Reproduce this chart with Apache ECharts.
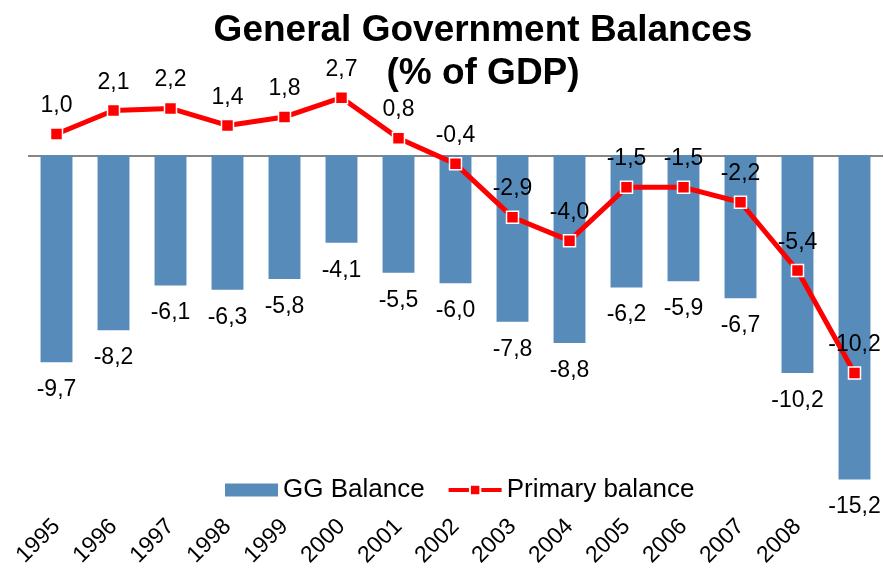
<!DOCTYPE html>
<html>
<head>
<meta charset="utf-8">
<script src="https://cdn.jsdelivr.net/npm/echarts@6/dist/echarts.min.js"></script>
<style>
  html, body { margin: 0; padding: 0; background: #fff; }
  #chart { width: 884px; height: 571px; }
</style>
</head>
<body>
<div id="chart"></div>
<script>
// Years on the category axis
const years = ['1995', '1996', '1997', '1998', '1999', '2000', '2001', '2002',
               '2003', '2004', '2005', '2006', '2007', '2008', '2009'];
// Tick labels printed under the axis (the last year is left unlabelled)
const tickLabels = ['1995', '1996', '1997', '1998', '1999', '2000', '2001', '2002',
                    '2003', '2004', '2005', '2006', '2007', '2008', ''];
// General government balance, % of GDP
const ggBalance = [-9.7, -8.2, -6.1, -6.3, -5.8, -4.1, -5.5, -6.0,
                   -7.8, -8.8, -6.2, -5.9, -6.7, -10.2, -15.2];
// Primary balance, % of GDP
const primaryBalance = [1.0, 2.1, 2.2, 1.4, 1.8, 2.7, 0.8, -0.4,
                        -2.9, -4.0, -1.5, -1.5, -2.2, -5.4, -10.2];

const FONT = "'Liberation Sans', Arial, sans-serif";
const fmt = v => Number(v).toFixed(1).replace('.', ',');

const chart = echarts.init(document.getElementById('chart'), null, { renderer: 'canvas' });

chart.setOption({
  animation: false,
  backgroundColor: '#ffffff',
  textStyle: { fontFamily: FONT },
  title: {
    text: 'General Government Balances\n(% of GDP)',
    left: 478,
    top: 4,
    textAlign: 'center',
    textStyle: {
      fontFamily: FONT,
      fontSize: 37,
      fontWeight: 'bold',
      color: '#000',
      lineHeight: 43
    }
  },
  legend: {
    left: 220,
    top: 472,
    itemWidth: 53,
    itemHeight: 13,
    itemGap: 22,
    textStyle: { fontFamily: FONT, fontSize: 26, color: '#000' },
    data: [
      { name: 'GG Balance', icon: 'rect' },
      { name: 'Primary balance', lineStyle: { width: 4 } }
    ]
  },
  grid: {
    left: 28,
    width: 855,
    top: 70,
    height: 448,
    containLabel: false,
    outerBoundsMode: 'none'
  },
  xAxis: {
    type: 'category',
    data: years,
    position: 'bottom',
    axisLine: { show: false, onZero: false },
    axisTick: { show: false },
    axisLabel: {
      interval: 0,
      rotate: 45,
      margin: 5,
      fontFamily: FONT,
      fontSize: 23,
      color: '#000',
      formatter: (v, i) => tickLabels[i]
    },
    splitLine: { show: false }
  },
  yAxis: {
    type: 'value',
    min: -17,
    max: 4,
    show: false,
    splitLine: { show: false }
  },
  series: [
    {
      name: 'GG Balance',
      type: 'bar',
      data: ggBalance,
      barWidth: '56%',
      itemStyle: { color: '#578BBA' },
      label: {
        show: true,
        position: 'bottom',
        distance: 16,
        fontFamily: FONT,
        fontSize: 23,
        color: '#000',
        formatter: p => fmt(p.value)
      },
      markLine: {
        silent: true,
        symbol: ['none', 'none'],
        label: { show: false },
        lineStyle: { color: '#868686', width: 2, type: 'solid' },
        data: [{ yAxis: 0 }],
        z: 1
      }
    },
    {
      name: 'Primary balance',
      type: 'line',
      data: primaryBalance,
      z: 5,
      symbol: 'rect',
      symbolSize: 12,
      lineStyle: { color: '#FF0000', width: 5 },
      itemStyle: { color: '#FF0000', borderColor: '#ffffff', borderWidth: 1.5 },
      label: {
        show: true,
        position: 'top',
        distance: 10,
        fontFamily: FONT,
        fontSize: 23,
        color: '#000',
        formatter: p => fmt(p.value)
      }
    }
  ]
});
</script>
</body>
</html>
